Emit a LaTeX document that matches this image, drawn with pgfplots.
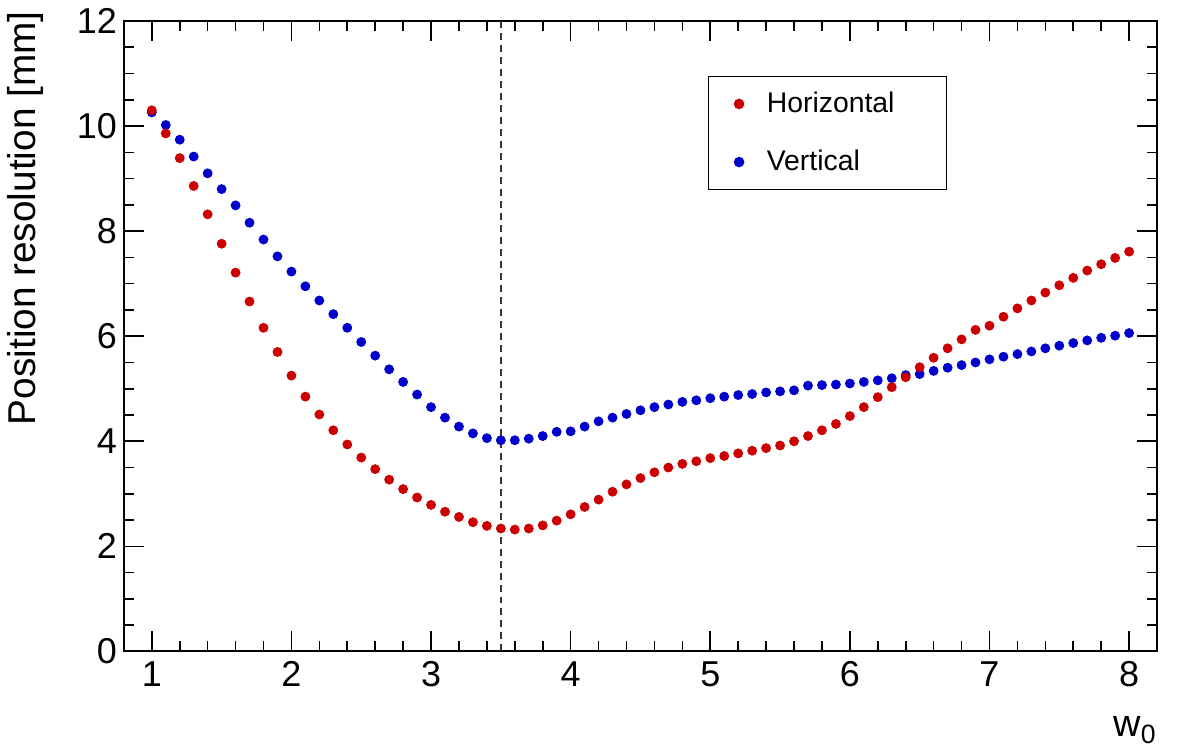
\documentclass[border=0pt]{standalone}
\usepackage{fontspec}
\setmainfont{Liberation Sans}
\usepackage{pgfplots}
\pgfplotsset{compat=1.18}
\definecolor{rootred}{RGB}{204,0,0}
\definecolor{rootblue}{RGB}{0,0,204}
\begin{document}
\begin{tikzpicture}
\begin{axis}[
  scale only axis,
  width=517pt, height=315.5pt,
  xmin=0.8, xmax=8.2, ymin=0, ymax=12,
  xtick={1,2,3,4,5,6,7,8},
  ytick={0,2,4,6,8,10,12},
  minor x tick num=4,
  minor y tick num=3,
  tick align=inside,
  major tick length=10pt,
  minor tick length=5pt,
  axis line style={line width=1pt},
  every tick/.style={black, line width=0.8pt},
  /pgf/number format/assume math mode=true,
  tick label style={font=\fontsize{18}{21}\selectfont},
  xticklabel style={yshift=-1.5pt},
  ylabel={Position resolution [mm]},
  ylabel style={at={(rel axis cs:-0.0856,1.0158)}, anchor=base east, rotate=0, font=\fontsize{19.4}{23}\selectfont, inner sep=0pt},
  xlabel={w\textsubscript{0}},
  xlabel style={at={(rel axis cs:1,0)}, anchor=base east, yshift=-42.5pt, font=\fontsize{19}{23}\selectfont, inner sep=0pt},
  reverse legend,
  legend cell align=left,
  legend image code/.code={\path (0pt,0pt) (26.5pt,0pt); \draw[#1] plot coordinates {(15pt,0pt)};},
  legend style={at={(rel axis cs:0.565,0.913)}, anchor=north west, draw=black, line width=0.75pt,
    font=\fontsize{14.2}{17}\selectfont, inner xsep=0pt, inner ysep=5.8pt, row sep=13.3pt},
]
\addplot[forget plot, black!80, line width=0.75pt, dash pattern=on 3.5pt off 2.5pt] coordinates {(3.5,0) (3.5,12)};
\addplot[only marks, mark=*, mark size=2.25pt, color=rootblue, mark options={draw=rootblue, fill=rootblue}] coordinates {
(1.0,10.26) (1.1,10.02) (1.2,9.74) (1.3,9.42) (1.4,9.10) (1.5,8.80) (1.6,8.49) (1.7,8.16) (1.8,7.84) (1.9,7.52)
(2.0,7.23) (2.1,6.95) (2.2,6.68) (2.3,6.42) (2.4,6.16) (2.5,5.89) (2.6,5.63) (2.7,5.37) (2.8,5.13) (2.9,4.89)
(3.0,4.65) (3.1,4.45) (3.2,4.28) (3.3,4.15) (3.4,4.06) (3.5,4.02) (3.6,4.02) (3.7,4.05) (3.8,4.10) (3.9,4.18)
(4.0,4.19) (4.1,4.28) (4.2,4.38) (4.3,4.45) (4.4,4.52) (4.5,4.59) (4.6,4.65) (4.7,4.70) (4.8,4.75) (4.9,4.78)
(5.0,4.82) (5.1,4.85) (5.2,4.88) (5.3,4.90) (5.4,4.93) (5.5,4.95) (5.6,4.97) (5.7,5.06) (5.8,5.07) (5.9,5.08)
(6.0,5.10) (6.1,5.13) (6.2,5.16) (6.3,5.20) (6.4,5.26) (6.5,5.28) (6.6,5.34) (6.7,5.40) (6.8,5.45) (6.9,5.50)
(7.0,5.56) (7.1,5.61) (7.2,5.66) (7.3,5.71) (7.4,5.77) (7.5,5.82) (7.6,5.87) (7.7,5.92) (7.8,5.97) (7.9,6.01)
(8.0,6.06)};
\addlegendentry{Vertical}
\addplot[only marks, mark=*, mark size=2.25pt, color=rootred, mark options={draw=rootred, fill=rootred}] coordinates {
(1.0,10.30) (1.1,9.86) (1.2,9.39) (1.3,8.86) (1.4,8.32) (1.5,7.76) (1.6,7.21) (1.7,6.66) (1.8,6.16) (1.9,5.70)
(2.0,5.25) (2.1,4.85) (2.2,4.51) (2.3,4.21) (2.4,3.94) (2.5,3.69) (2.6,3.47) (2.7,3.27) (2.8,3.09) (2.9,2.93)
(3.0,2.79) (3.1,2.66) (3.2,2.56) (3.3,2.46) (3.4,2.39) (3.5,2.34) (3.6,2.32) (3.7,2.34) (3.8,2.40) (3.9,2.49)
(4.0,2.61) (4.1,2.75) (4.2,2.89) (4.3,3.04) (4.4,3.18) (4.5,3.30) (4.6,3.41) (4.7,3.50) (4.8,3.57) (4.9,3.62)
(5.0,3.68) (5.1,3.72) (5.2,3.77) (5.3,3.82) (5.4,3.87) (5.5,3.92) (5.6,4.00) (5.7,4.10) (5.8,4.21) (5.9,4.33)
(6.0,4.48) (6.1,4.65) (6.2,4.84) (6.3,5.03) (6.4,5.22) (6.5,5.41) (6.6,5.59) (6.7,5.77) (6.8,5.94) (6.9,6.12)
(7.0,6.20) (7.1,6.37) (7.2,6.53) (7.3,6.68) (7.4,6.83) (7.5,6.97) (7.6,7.11) (7.7,7.25) (7.8,7.37) (7.9,7.49)
(8.0,7.61)};
\addlegendentry{Horizontal\hspace*{24pt}}
\end{axis}
\pgfresetboundingbox
\path[use as bounding box] ([xshift=-62pt,yshift=-51.5pt]current axis.south west) rectangle ([xshift=12.5pt,yshift=10.5pt]current axis.north east);
\end{tikzpicture}
\end{document}
